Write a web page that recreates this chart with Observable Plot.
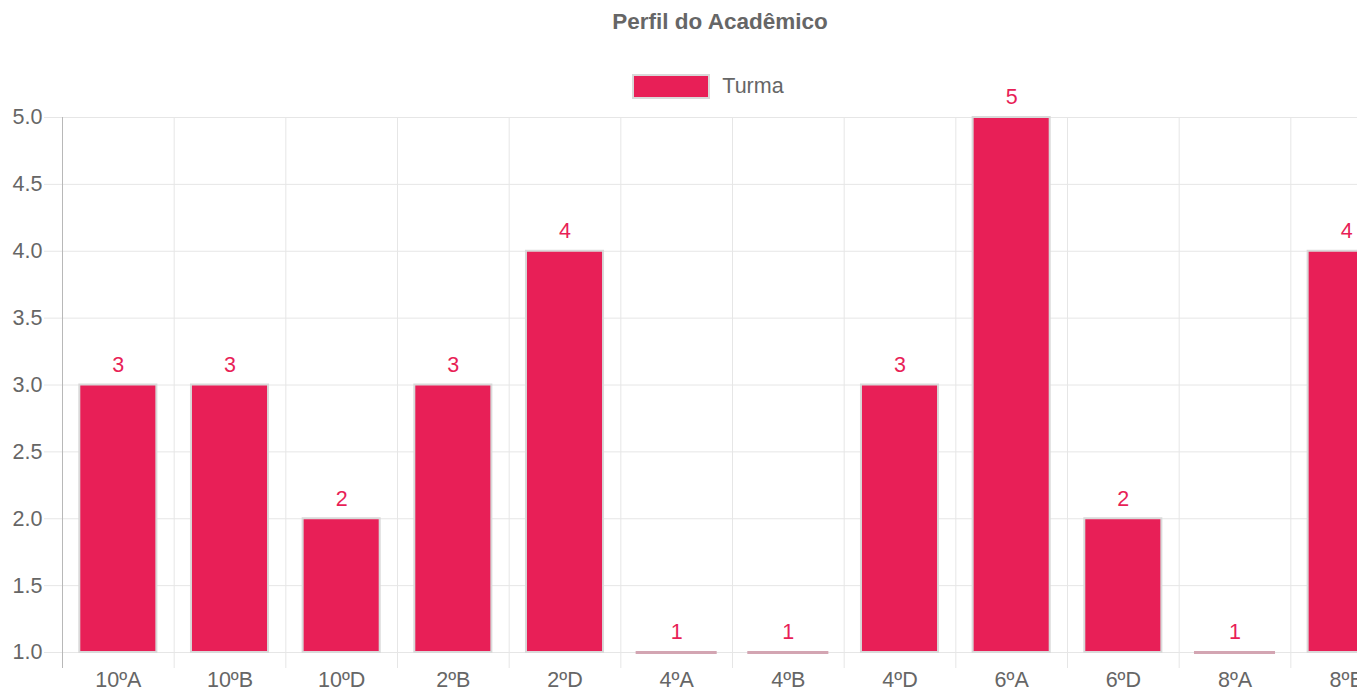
<!DOCTYPE html>
<html>
<head>
<meta charset="utf-8">
<script src="https://cdn.jsdelivr.net/npm/d3@7"></script>
<script src="https://cdn.jsdelivr.net/npm/@observablehq/plot@0.6"></script>
<style>
  html, body { margin: 0; padding: 0; background: #fff; }
  #clip { width: 1357px; height: 691px; overflow: hidden; position: relative; }
  #wrap { width: 1440px; position: relative; font-family: "Liberation Sans", Arial, sans-serif; }
  #title { height: 44px; line-height: 44px; text-align: center; font-size: 22.5px; font-weight: bold; color: #666; }
  #legend { height: 56px; display: flex; justify-content: center; align-items: center; padding-top: 28px; padding-right: 24px; box-sizing: border-box; color: #666; font-size: 21.5px; }
  #legend .box { width: 74px; height: 21px; border: 2px solid #d9d9d9; margin-right: 12px; }
  #chart svg { overflow: visible; }
</style>
</head>
<body>
<div id="clip">
  <div id="wrap">
    <div id="title"></div>
    <div id="legend"></div>
    <div id="chart"></div>
  </div>
</div>
<script>
const chartTitle = "Perfil do Acadêmico";
const seriesName = "Turma";
const turmas = ["10ºA", "10ºB", "10ºD", "2ºB", "2ºD", "4ºA", "4ºB", "4ºD", "6ºA", "6ºD", "8ºA", "8ºB"];
const counts = [3, 3, 2, 3, 4, 1, 1, 3, 5, 2, 1, 4];
const yTicks = [1.0, 1.5, 2.0, 2.5, 3.0, 3.5, 4.0, 4.5, 5.0];

const barColor = "#e81f57";
const data = turmas.map((t, i) => ({turma: t, count: counts[i]}));

document.getElementById("title").textContent = chartTitle;
const legend = document.getElementById("legend");
const box = document.createElement("div");
box.className = "box";
box.style.background = barColor;
legend.appendChild(box);
const lab = document.createElement("span");
lab.textContent = seriesName;
legend.appendChild(lab);

const width = 1440, height = 591;
const marginLeft = 62, marginRight = 38;
const step = (width - marginLeft - marginRight) / turmas.length;
const yMin = d3.min(yTicks), yMax = d3.max(yTicks);

const plot = Plot.plot({
  width, height,
  marginLeft, marginRight,
  marginTop: 17,
  marginBottom: 23,
  style: {fontFamily: "Liberation Sans, Arial, sans-serif", fontSize: "21.5px", color: "#666", background: "transparent"},
  x: {domain: turmas, paddingInner: 0.31, paddingOuter: 0.155, round: false, label: null},
  y: {domain: [yMin, yMax], insetBottom: 16, label: null},
  marks: [
    Plot.gridY(yTicks, {stroke: "#e6e6e6", strokeOpacity: 1}),
    Plot.ruleX(turmas.slice(1), {x: d => d, dx: -step / 2, stroke: "#e6e6e6"}),
    Plot.ruleX(turmas.slice(-1), {x: d => d, dx: step / 2, stroke: "#e6e6e6"}),
    Plot.ruleX(turmas.slice(0, 1), {x: d => d, dx: -step / 2, stroke: "#b8b8b8"}),
    Plot.axisY({ticks: yTicks, tickFormat: d3.format(".1f"), tickSize: 18, tickPadding: 2, stroke: "#e6e6e6", fill: "#666", label: null}),
    Plot.axisX({tickSize: 0, tickPadding: 3, fill: "#666", label: null}),
    Plot.barY(data.filter(d => d.count > yMin), {x: "turma", y1: yMin, y2: "count", fill: barColor, stroke: "#d9d9d9", strokeWidth: 2}),
    Plot.tickY(data.filter(d => d.count === yMin), {x: "turma", y: "count", stroke: "#d3a5b2", strokeWidth: 3, insetLeft: -2, insetRight: -2}),
    Plot.text(data, {x: "turma", y: "count", text: d => String(d.count), dy: -20, fill: barColor, fontSize: 21.5, lineAnchor: "middle"})
  ]
});
document.getElementById("chart").appendChild(plot);
</script>
</body>
</html>
